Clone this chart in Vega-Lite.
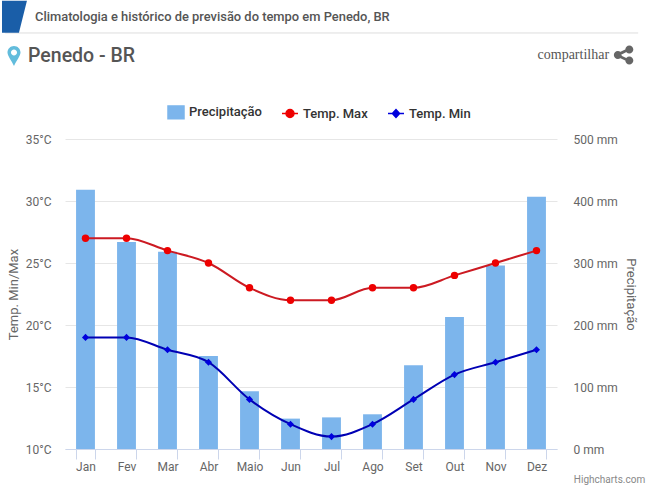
{
"$schema":"https://vega.github.io/schema/vega-lite/v6.json",
"width":492,"height":310,
"autosize":{"type":"none"},
"padding":{"left":65,"top":139,"right":94,"bottom":49},
"background":"white",
"config":{"font":"Roboto","view":{"stroke":null}},
"title":{"text":"Climatologia e histórico de previsão do tempo em Penedo, BR","anchor":"start","frame":"group","dx":-30,"offset":-23,"font":"Roboto","fontSize":12.9,"fontWeight":500,"color":"#555555"},
"data":{"values":[
{"month":"Jan","series":"Precipitação","value":418},{"month":"Fev","series":"Precipitação","value":334},{"month":"Mar","series":"Precipitação","value":318},{"month":"Abr","series":"Precipitação","value":150},{"month":"Maio","series":"Precipitação","value":93},{"month":"Jun","series":"Precipitação","value":49},{"month":"Jul","series":"Precipitação","value":51},{"month":"Ago","series":"Precipitação","value":56},{"month":"Set","series":"Precipitação","value":135},{"month":"Out","series":"Precipitação","value":213},{"month":"Nov","series":"Precipitação","value":296},{"month":"Dez","series":"Precipitação","value":407},
{"month":"Jan","series":"Temp. Max","value":27},{"month":"Fev","series":"Temp. Max","value":27},{"month":"Mar","series":"Temp. Max","value":26},{"month":"Abr","series":"Temp. Max","value":25},{"month":"Maio","series":"Temp. Max","value":23},{"month":"Jun","series":"Temp. Max","value":22},{"month":"Jul","series":"Temp. Max","value":22},{"month":"Ago","series":"Temp. Max","value":23},{"month":"Set","series":"Temp. Max","value":23},{"month":"Out","series":"Temp. Max","value":24},{"month":"Nov","series":"Temp. Max","value":25},{"month":"Dez","series":"Temp. Max","value":26},
{"month":"Jan","series":"Temp. Min","value":19},{"month":"Fev","series":"Temp. Min","value":19},{"month":"Mar","series":"Temp. Min","value":18},{"month":"Abr","series":"Temp. Min","value":17},{"month":"Maio","series":"Temp. Min","value":14},{"month":"Jun","series":"Temp. Min","value":12},{"month":"Jul","series":"Temp. Min","value":11},{"month":"Ago","series":"Temp. Min","value":12},{"month":"Set","series":"Temp. Min","value":14},{"month":"Out","series":"Temp. Min","value":16},{"month":"Nov","series":"Temp. Min","value":17},{"month":"Dez","series":"Temp. Min","value":18}
]},
"layer":[
{"transform":[{"filter":"datum.series==='Precipitação'"}],
 "mark":{"type":"bar"},
 "encoding":{
  "x":{"field":"month","type":"nominal","title":null,
    "scale":{"domain":["Jan","Fev","Mar","Abr","Maio","Jun","Jul","Ago","Set","Out","Nov","Dez"],"paddingInner":0.54,"paddingOuter":0.27},
    "axis":{"tickBand":"extent","labelAngle":0,"labelColor":"#666666","labelFontSize":12,"labelPadding":2,"tickColor":"#ccd6eb","tickSize":10,"domainColor":"#ccd6eb","grid":false}},
  "y":{"field":"value","type":"quantitative","scale":{"domain":[0,500]},"title":"Precipitação",
    "axis":{"orient":"right","values":[0,100,200,300,400,500],"labelExpr":"datum.value+' mm'","grid":false,"domain":false,"ticks":false,"labelPadding":16,"labelColor":"#666666","labelFontSize":12,"titleColor":"#666666","titleFontSize":13,"titleFontWeight":"normal","titlePadding":6}},
  "color":{"field":"series","type":"nominal","title":null,
    "scale":{"domain":["Precipitação","Temp. Max","Temp. Min"],"range":["#7cb5ec","#ee0000","#0000dd"]},
    "legend":{"orient":"none","legendX":102,"legendY":-36,"direction":"horizontal","labelFont":"Roboto","labelFontSize":13,"labelFontWeight":500,"labelColor":"#333333","columnPadding":17,"symbolSize":256,"labelOffset":4,
      "encode":{"symbols":{"update":{
        "shape":{"signal":"datum.value==='Precipitação'?'M-1,-0.8H1V0.8H-1Z':datum.value==='Temp. Max'?'M-1,0H-0.5A0.5,0.5 0 1,1 0.5,0A0.5,0.5 0 1,1 -0.5,0M0.5,0H1':'M-1,0H-0.45L0,-0.5L0.45,0L0,0.5L-0.45,0M0.45,0H1'"},
        "fill":{"scale":"color","field":"value"},
        "stroke":{"scale":"color","field":"value"},
        "strokeWidth":{"value":1.5},
        "opacity":{"value":1},"fillOpacity":{"value":1},"strokeOpacity":{"value":1}}}}}}
 }},
{"encoding":{
  "x":{"field":"month","type":"nominal","title":null,"axis":null,
    "scale":{"domain":["Jan","Fev","Mar","Abr","Maio","Jun","Jul","Ago","Set","Out","Nov","Dez"],"paddingInner":0.54,"paddingOuter":0.27}},
  "y":{"field":"value","type":"quantitative","scale":{"domain":[10,35]},"title":"Temp. Min/Max",
    "axis":{"orient":"left","values":[10,15,20,25,30,35],"labelExpr":"datum.value+'°C'","grid":true,"gridColor":"#e6e6e6","domain":false,"ticks":false,"labelPadding":14,"labelColor":"#666666","labelFontSize":12,"titleColor":"#666666","titleFontSize":13,"titleFontWeight":"normal","titlePadding":5}}},
 "layer":[
  {"transform":[{"filter":"datum.series==='Temp. Max'"}],"mark":{"type":"line","interpolate":"monotone","strokeWidth":2,"color":"#cc1a22"}},
  {"transform":[{"filter":"datum.series==='Temp. Min'"}],"mark":{"type":"line","interpolate":"monotone","strokeWidth":2,"color":"#0000b4"}},
  {"transform":[{"filter":"datum.series==='Temp. Max'"}],"mark":{"type":"point","filled":true,"shape":"circle","size":55,"opacity":1},"encoding":{"color":{"field":"series","type":"nominal"}}},
  {"transform":[{"filter":"datum.series==='Temp. Min'"}],"mark":{"type":"point","filled":true,"shape":"diamond","size":50,"opacity":1},"encoding":{"color":{"field":"series","type":"nominal"}}}
 ]},
{"data":{"values":[{"item":"header"}]},"mark":{"type":"rule","color":"#dddddd","strokeWidth":1},
 "encoding":{"x":{"datum":-1.46,"type":"quantitative","scale":{"domain":[0,12]},"axis":null},"x2":{"datum":13.98},"y":{"datum":671,"type":"quantitative","scale":{"domain":[0,500]},"axis":null}}},
{"data":{"values":[{"item":"badge"}]},"mark":{"type":"point","filled":true,"opacity":1,"size":1024,"color":"#1a5ea8","shape":"M-0.78,-1L0.78,-1L0.28,1L-0.78,1Z"},
 "encoding":{"x":{"datum":-1.232,"type":"quantitative","scale":{"domain":[0,12]},"axis":null},"y":{"datum":697,"type":"quantitative","scale":{"domain":[0,500]},"axis":null}}},
{"data":{"values":[{"item":"pin"}]},"mark":{"type":"point","filled":true,"opacity":1,"size":400,"color":"#62bcdc","shape":"M0,1C-0.25,0.45 -0.65,0 -0.65,-0.35A0.65,0.65 0 1,1 0.65,-0.35C0.65,0 0.25,0.45 0,1ZM0,-0.65A0.3,0.3 0 1,0 0,-0.05A0.3,0.3 0 1,0 0,-0.65Z"},
 "encoding":{"x":{"datum":-1.244,"type":"quantitative","scale":{"domain":[0,12]},"axis":null},"y":{"datum":634,"type":"quantitative","scale":{"domain":[0,500]},"axis":null}}},
{"data":{"values":[{"item":"share"}]},"mark":{"type":"point","filled":true,"opacity":1,"size":400,"color":"#666666","shape":"M0.55,-0.95A0.4,0.4 0 1,1 0.55,-0.15A0.4,0.4 0 1,1 0.55,-0.95ZM-0.6,-0.4A0.4,0.4 0 1,1 -0.6,0.4A0.4,0.4 0 1,1 -0.6,-0.4ZM0.55,0.15A0.4,0.4 0 1,1 0.55,0.95A0.4,0.4 0 1,1 0.55,0.15ZM-0.7,-0.15L0.45,-0.7L0.55,-0.45L-0.6,0.15ZM-0.7,0.15L-0.6,-0.1L0.55,0.45L0.45,0.7Z"},
 "encoding":{"x":{"datum":13.63,"type":"quantitative","scale":{"domain":[0,12]},"axis":null},"y":{"datum":635.5,"type":"quantitative","scale":{"domain":[0,500]},"axis":null}}},
{"data":{"values":[{"label":"Penedo - BR"}]},"mark":{"type":"text","align":"left","baseline":"middle","font":"Roboto","fontSize":19.5,"fontWeight":500,"color":"#555555"},
 "encoding":{"text":{"field":"label"},"x":{"datum":-0.902,"type":"quantitative","scale":{"domain":[0,12]},"axis":null},"y":{"datum":634,"type":"quantitative","scale":{"domain":[0,500]},"axis":null}}},
{"data":{"values":[{"label":"compartilhar"}]},"mark":{"type":"text","align":"right","baseline":"middle","font":"Liberation Serif","fontSize":14,"color":"#555555"},
 "encoding":{"text":{"field":"label"},"x":{"datum":13.27,"type":"quantitative","scale":{"domain":[0,12]},"axis":null},"y":{"datum":635.5,"type":"quantitative","scale":{"domain":[0,500]},"axis":null}}},
{"data":{"values":[{"label":"Highcharts.com"}]},"mark":{"type":"text","align":"right","baseline":"middle","font":"Roboto","fontSize":10,"color":"#888888"},
 "encoding":{"text":{"field":"label"},"x":{"datum":14.15,"type":"quantitative","scale":{"domain":[0,12]},"axis":null},"y":{"datum":-50,"type":"quantitative","scale":{"domain":[0,500]},"axis":null}}}
],
"resolve":{"scale":{"x":"independent","y":"independent"},"axis":{"x":"independent","y":"independent"}}
}
